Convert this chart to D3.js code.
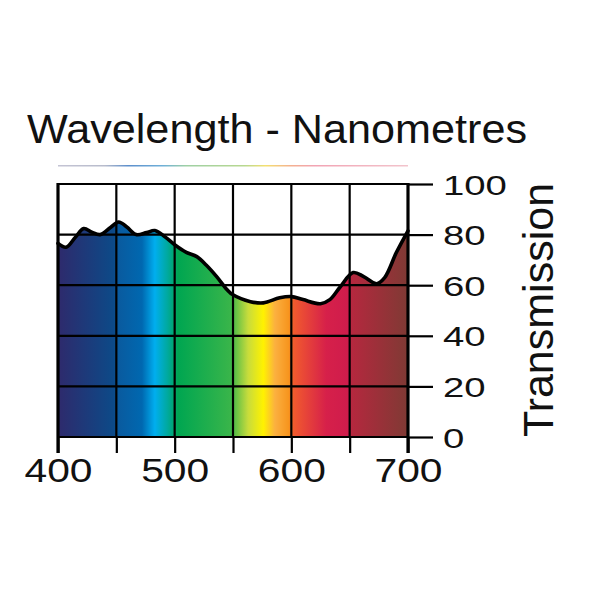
<!DOCTYPE html>
<html lang="en">

<head>
  <meta charset="UTF-8">
  <script src="https://d3js.org/d3.v7.min.js"></script>
  <title>Transmission spectrum</title>
  <style>
    body {
      margin: 0;
      background: #fff;
    }

    text {
      font-family: "Liberation Sans", Arial, Helvetica, sans-serif;
      fill: #111;
    }
  </style>
</head>

<body>
  <div id="chart"></div>
  <script>
    // Transmission curve (nm, %)
    const wavelengths = [400, 407, 415, 422, 429, 436, 445, 452, 459, 467, 476, 483, 492, 500, 510, 519, 527, 536, 545, 550,
      565, 576, 590, 600, 610, 625, 633, 642, 653, 662, 673, 680, 690, 700];
    const transmission = [76.5, 75, 79, 82.4, 81, 80, 82.8, 85, 83, 80, 80.8, 81.6, 79, 76, 73, 71.3, 68, 63.4, 58.2, 56.2,
      53.5, 53, 55, 55.5, 54.3, 52.7, 54.3, 59.4, 65, 63.4, 60.6, 63, 72.9, 81.5];

    // Spectrum fill colours
    const spectrumNm = [400, 448, 451, 472, 483, 494, 503, 548, 563, 576, 586, 598, 602, 630, 649, 652, 700];
    const spectrumColors = ["#2e2a6c", "#0c4a88", "#0a5a9e", "#0068b0", "#00aeef", "#00a99d", "#00a651", "#39b54a",
      "#c8dc3c", "#fff200", "#fbb040", "#f7941d", "#f15a2e", "#d6204a", "#cf1c4c", "#b4283e", "#7f3a34"];

    // Faint rainbow rule under the title
    const ruleNm = [400, 440, 460, 490, 510, 560, 578, 600, 620, 700];
    const ruleColors = ["#c4c4d4", "#b8bccc", "#5d8fcc", "#6fb0d8", "#9fd0a4", "#b8d890", "#f4e070", "#f4b090", "#f2a4b4", "#f2c4cc"];

    const xTicks = [400, 450, 500, 550, 600, 650, 700];
    const xLabels = [400, 500, 600, 700];
    const yTicks = [0, 20, 40, 60, 80, 100];

    const width = 600;
    const height = 600;

    const x = d3.scaleLinear().domain([400, 700]).range([58, 408]);
    const y = d3.scaleLinear().domain([0, 100]).range([437, 184]);

    const svg = d3.select("#chart")
      .append("svg")
      .attr("width", width)
      .attr("height", height);

    const defs = svg.append("defs");

    const fillGrad = defs.append("linearGradient")
      .attr("id", "spectrum")
      .attr("gradientUnits", "userSpaceOnUse")
      .attr("x1", x(400)).attr("x2", x(700))
      .attr("y1", 0).attr("y2", 0);

    fillGrad.selectAll("stop")
      .data(spectrumNm)
      .enter()
      .append("stop")
      .attr("offset", d => (d - 400) / 300)
      .attr("stop-color", (d, i) => spectrumColors[i]);

    const ruleGrad = defs.append("linearGradient")
      .attr("id", "rule")
      .attr("gradientUnits", "userSpaceOnUse")
      .attr("x1", x(400)).attr("x2", x(700))
      .attr("y1", 0).attr("y2", 0);

    ruleGrad.selectAll("stop")
      .data(ruleNm)
      .enter()
      .append("stop")
      .attr("offset", d => (d - 400) / 300)
      .attr("stop-color", (d, i) => ruleColors[i]);

    // Title and rule
    svg.append("text")
      .attr("x", 27)
      .attr("y", 143)
      .attr("textLength", 500)
      .attr("lengthAdjust", "spacingAndGlyphs")
      .style("font-size", "41px")
      .text("Wavelength - Nanometres");

    // drawn as a thin rect so the gradient has a real box
    svg.append("rect")
      .attr("x", x(400))
      .attr("y", 165)
      .attr("width", x(700) - x(400))
      .attr("height", 1.5)
      .attr("fill", "url(#rule)");

    const points = wavelengths.map((w, i) => [w, transmission[i]]);

    // Area under the curve
    const area = d3.area()
      .x(d => x(d[0]))
      .y0(y(0))
      .y1(d => y(d[1]))
      .curve(d3.curveCatmullRom.alpha(0.5));

    svg.append("path")
      .datum(points)
      .attr("d", area)
      .attr("fill", "url(#spectrum)");

    // Grid
    const grid = svg.append("g")
      .attr("stroke", "#000")
      .attr("stroke-width", 2.2);

    grid.selectAll(".h")
      .data(yTicks)
      .enter()
      .append("line")
      .attr("x1", x(400)).attr("x2", x(700))
      .attr("y1", d => y(d)).attr("y2", d => y(d));

    grid.selectAll(".v")
      .data(xTicks.slice(1, -1))
      .enter()
      .append("line")
      .attr("x1", d => x(d)).attr("x2", d => x(d))
      .attr("y1", y(100)).attr("y2", y(0));

    // Curve
    const line = d3.line()
      .x(d => x(d[0]))
      .y(d => y(d[1]))
      .curve(d3.curveCatmullRom.alpha(0.5));

    svg.append("path")
      .datum(points)
      .attr("d", line)
      .attr("fill", "none")
      .attr("stroke", "#000")
      .attr("stroke-width", 3.6)
      .attr("stroke-linejoin", "round")
      .attr("stroke-linecap", "round");

    // Bottom axis
    const xAxis = svg.append("g")
      .attr("transform", `translate(0,${y(0)})`)
      .call(d3.axisBottom(x)
        .tickValues(xTicks)
        .tickSize(16)
        .tickPadding(6)
        .tickFormat(d => xLabels.includes(d) ? d : ""));

    xAxis.select(".domain").remove();
    xAxis.selectAll(".tick line").attr("stroke", "#000").attr("stroke-width", 2.2);
    xAxis.selectAll(".tick text")
      .style("font-size", "33px")
      .attr("fill", "#111")
      .filter(d => xLabels.includes(d))
      .attr("textLength", 68)
      .attr("lengthAdjust", "spacingAndGlyphs");

    // Right axis
    const yAxis = svg.append("g")
      .attr("transform", `translate(${x(700)},0)`)
      .call(d3.axisRight(y)
        .tickValues(yTicks)
        .tickSize(25)
        .tickPadding(10));

    yAxis.select(".domain").remove();
    yAxis.selectAll(".tick line").attr("stroke", "#000").attr("stroke-width", 2.2);
    yAxis.selectAll(".tick text")
      .style("font-size", "28px")
      .attr("fill", "#111")
      .attr("dy", "0.36em")
      .attr("textLength", d => String(d).length * 21.3)
      .attr("lengthAdjust", "spacingAndGlyphs");

    // Plot borders at 400 and 700
    svg.selectAll(".border")
      .data([400, 700])
      .enter()
      .append("line")
      .attr("x1", d => x(d)).attr("x2", d => x(d))
      .attr("y1", y(100) - 1).attr("y2", y(0) + 16)
      .attr("stroke", "#000")
      .attr("stroke-width", 3.2);

    svg.append("text")
      .attr("transform", "translate(553,310) rotate(-90)")
      .attr("text-anchor", "middle")
      .style("font-size", "43px")
      .text("Transmission");
  </script>
</body>

</html>
